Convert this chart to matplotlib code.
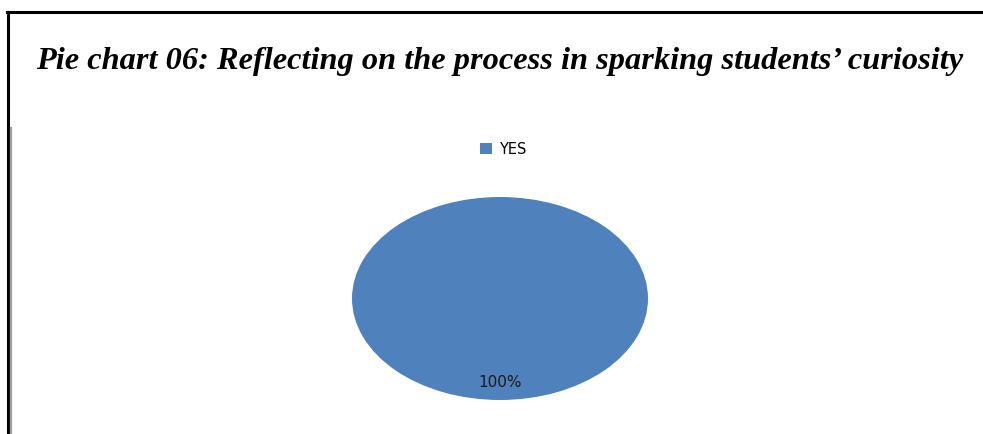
import matplotlib.pyplot as plt
from matplotlib.lines import Line2D
from matplotlib.patches import Patch

labels = ["YES"]
values = [100]
colors = ["#4F81BD"]
title = "Pie chart 06: Reflecting on the process in sparking students\u2019 curiosity"

W, H = 983, 435
fig = plt.figure(figsize=(W / 100, H / 100), dpi=100)

# frame lines around the chart
fig.add_artist(Line2D([7 / W, 1], [1 - 13 / H, 1 - 13 / H], color="black", lw=2.2))
fig.add_artist(Line2D([8 / W, 8 / W], [0, 1 - 13 / H], color="black", lw=2.2))
fig.add_artist(Line2D([11 / W, 11 / W], [0, 1 - 129 / H], color="#a0a0a0", lw=1.6))

fig.text(500 / W, 1 - 61 / H, title, ha="center", va="center",
         fontsize=23.3, fontweight="bold", fontstyle="italic",
         family="Liberation Serif")

# pie drawn as an ellipse (stretched axes)
ax = fig.add_axes([352 / W, 1 - 401 / H, 296 / W, 203 / H])
wedges, texts, autotexts = ax.pie(values, colors=colors, startangle=90,
                                  autopct="%d%%", pctdistance=0.82,
                                  textprops=dict(family="DejaVu Sans", fontsize=11, color="#1a1a1a"))
ax.set_aspect("auto")
ax.set_xlim(-1, 1)
ax.set_ylim(-1, 1)
ax.axis("off")

handles = [Patch(facecolor=c, label=l) for c, l in zip(colors, labels)]
fig.legend(handles=handles, loc="center", bbox_to_anchor=(503 / W, 1 - 150 / H),
           frameon=False, handlelength=0.85, handleheight=0.8, handletextpad=0.45,
           prop=dict(family="DejaVu Sans", size=10.5))

fig.savefig("out.png", dpi=100)
